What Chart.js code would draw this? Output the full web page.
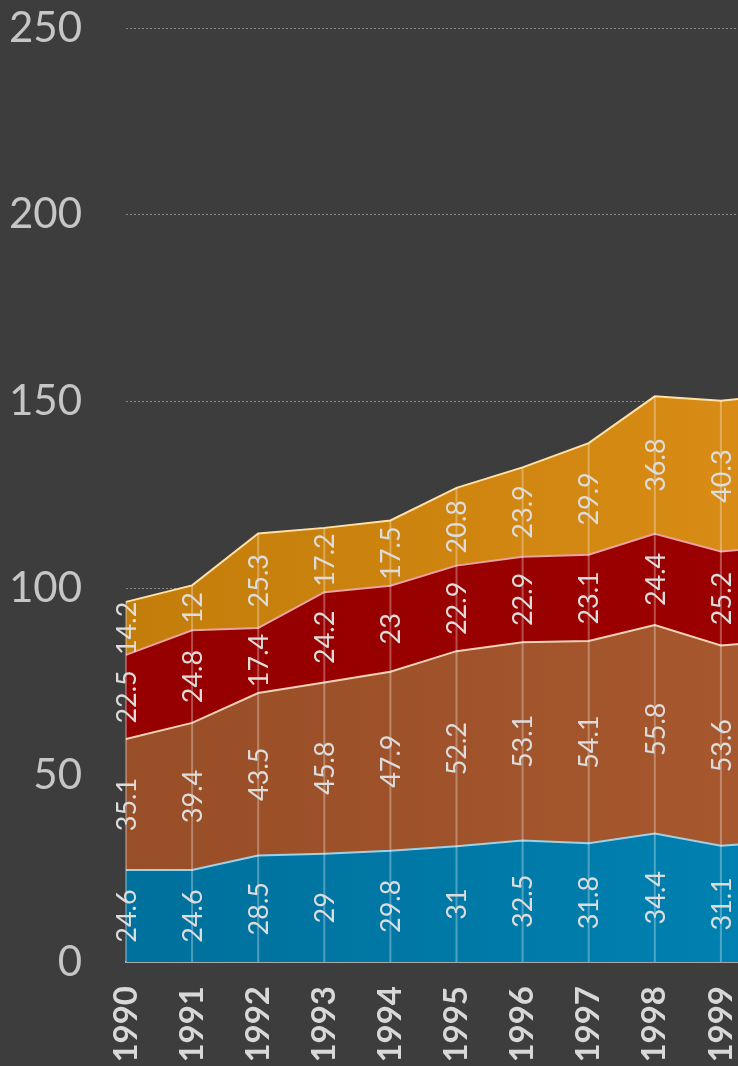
<!DOCTYPE html>
<html>
<head>
<meta charset="utf-8">
<script src="https://cdn.jsdelivr.net/npm/chart.js@4/dist/chart.umd.min.js"></script>
<style>
  html, body { margin: 0; padding: 0; background: #3d3d3d; overflow: hidden; width: 738px; height: 1066px; }
  #wrap { width: 800px; height: 1066px; position: absolute; left: 0; top: 0; }
  canvas { display: block; }
</style>
</head>
<body>
<div id="wrap"><canvas id="areaChart" width="800" height="1066" style="width:800px;height:1066px"></canvas></div>
<script>
// categories (2000 sits just past the right edge of the picture)
var years = ["1990", "1991", "1992", "1993", "1994", "1995", "1996", "1997", "1998", "1999", "2000"];

// series values, bottom to top
var blueVals   = [24.6, 24.6, 28.5, 29, 29.8, 31, 32.5, 31.8, 34.4, 31.1, 32.3];
var brownVals  = [35.1, 39.4, 43.5, 45.8, 47.9, 52.2, 53.1, 54.1, 55.8, 53.6, 53.8];
var redVals    = [22.5, 24.8, 17.4, 24.2, 23, 22.9, 22.9, 23.1, 24.4, 25.2, 25.3];
var orangeVals = [14.2, 12, 25.3, 17.2, 17.5, 20.8, 23.9, 29.9, 36.8, 40.3, 40.6];

// y tick labels
var yTicks = [0, 50, 100, 150, 200, 250];

var fontFam = "Lato, 'Open Sans', sans-serif";

// left -> right colour shading for each layer
function shade(c1, c2) {
  return function(ctx) {
    var area = ctx.chart.chartArea;
    if (!area) return c1;
    var g = ctx.chart.ctx.createLinearGradient(area.left, 0, area.right, 0);
    g.addColorStop(0, c1);
    g.addColorStop(1, c2);
    return g;
  };
}

// vertical drop lines from the axis up to the top of the stack
var dropLines = {
  id: "dropLines",
  afterDatasetsDraw: function(chart) {
    var c = chart.ctx, y = chart.scales.y;
    var metas = chart.data.datasets.map(function(d, i) { return chart.getDatasetMeta(i); });
    var last = metas[metas.length - 1];
    c.save();
    c.strokeStyle = "rgba(255,255,255,0.3)";
    c.lineWidth = 2;
    last.data.forEach(function(pt, i) {
      c.beginPath();
      c.moveTo(pt.x, y.getPixelForValue(0));
      c.lineTo(pt.x, pt.y);
      c.stroke();
    });
    c.restore();
  }
};

// value labels, rotated, centred in each band
var bandLabels = {
  id: "bandLabels",
  afterDatasetsDraw: function(chart) {
    var c = chart.ctx, y = chart.scales.y;
    var sets = chart.data.datasets;
    c.save();
    c.fillStyle = "#dcdcdc";
    c.font = "27px " + fontFam;
    c.textAlign = "center";
    c.textBaseline = "middle";
    var base = sets[0].data.map(function() { return 0; });
    sets.forEach(function(ds, di) {
      var meta = chart.getDatasetMeta(di);
      ds.data.forEach(function(v, i) {
        var mid = y.getPixelForValue(base[i] + v / 2);
        c.save();
        c.translate(meta.data[i].x, mid);
        c.rotate(-Math.PI / 2);
        c.fillText(String(v), 0, 1);
        c.restore();
        base[i] += v;
      });
    });
    c.restore();
  }
};

var ctx = document.getElementById("areaChart").getContext("2d");

var myChart = new Chart(ctx, {
  type: "line",
  data: {
    labels: years,
    datasets: [
      { data: blueVals, fill: "origin", backgroundColor: shade("#00709c", "#0082b2"), borderColor: "#9fd0e6" },
      { data: brownVals, fill: "-1", backgroundColor: shade("#984e27", "#a8582e"), borderColor: "#f2d2b6" },
      { data: redVals, fill: "-1", backgroundColor: shade("#960000", "#9c0000"), borderColor: "#eaa2a2" },
      { data: orangeVals, fill: "-1", backgroundColor: shade("#c37d0a", "#da8d16"), borderColor: "#ffe1a6" }
    ]
  },
  options: {
    responsive: false,
    maintainAspectRatio: false,
    animation: false,
    devicePixelRatio: 1,
    layout: { padding: { top: 28, right: 13, left: 0, bottom: 0 } },
    elements: {
      line: { tension: 0, borderWidth: 2 },
      point: { radius: 0 }
    },
    plugins: { legend: { display: false }, tooltip: { enabled: false } },
    scales: {
      x: {
        offset: false,
        afterFit: function(s) { s.height = 104; s.paddingLeft = 0; s.paddingRight = 0; },
        grid: { display: false, drawTicks: false },
        border: { display: true, color: "#a9a9a9", width: 2 },
        ticks: {
          minRotation: 90, maxRotation: 90, padding: 24, autoSkip: false,
          color: "#d8d8d8", font: { family: fontFam, size: 33, weight: "bold" }
        }
      },
      y: {
        stacked: true,
        min: 0, max: 250,
        afterFit: function(s) { s.width = 126; s.paddingTop = 0; s.paddingBottom = 0; },
        afterBuildTicks: function(s) { s.ticks = yTicks.map(function(v) { return { value: v }; }); },
        grid: { color: "#8a8a8a", lineWidth: 1, drawTicks: false },
        border: { display: false, dash: [2, 2] },
        ticks: { padding: 44, color: "#c6c6c6", font: { family: fontFam, size: 42 } }
      }
    }
  },
  plugins: [dropLines, bandLabels]
});
</script>
</body>
</html>
